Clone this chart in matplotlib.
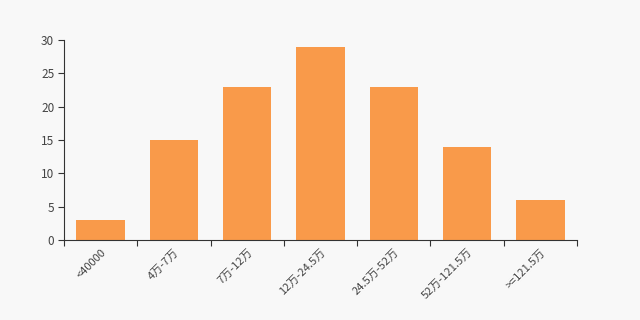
import matplotlib
matplotlib.use("Agg")
import matplotlib.pyplot as plt

plt.rcParams['font.family'] = ['Noto Sans CJK SC', 'DejaVu Sans']

categories = ["<40000", "4万-7万", "7万-12万", "12万-24.5万", "24.5万-52万", "52万-121.5万", ">=121.5万"]
values = [3, 15, 23, 29, 23, 14, 6]

bg = "#f8f8f8"
fig = plt.figure(figsize=(6.4, 3.2), dpi=100, facecolor=bg)
ax = fig.add_axes([0.1, 0.25, 0.8016, 0.625], facecolor=bg)

x = list(range(len(categories)))
ax.bar(x, values, width=0.66, color="#f99a4a", zorder=2)
ax.set_xlim(-0.5, len(categories) - 0.5)
ax.set_ylim(0, 30)
ax.set_yticks([0, 5, 10, 15, 20, 25, 30])

ax.set_xticks([i - 0.5 for i in range(len(categories) + 1)], minor=False)
ax.set_xticklabels([])
ax.set_xticks(x, minor=True)
ax.set_xticklabels(categories, minor=True, rotation=45, ha="right", rotation_mode="anchor",
                   fontsize=8, color="#444444")
ax.tick_params(axis="x", which="minor", length=0, pad=5)
ax.tick_params(axis="x", which="major", length=4, color="#333333")
ax.tick_params(axis="y", length=4, color="#333333", labelsize=8.5, labelcolor="#444444", pad=3)

for s in ["top", "right"]:
    ax.spines[s].set_visible(False)
for s in ["left", "bottom"]:
    ax.spines[s].set_color("#333333")
    ax.spines[s].set_linewidth(0.8)

fig.savefig("out.png", dpi=100, facecolor=bg)
